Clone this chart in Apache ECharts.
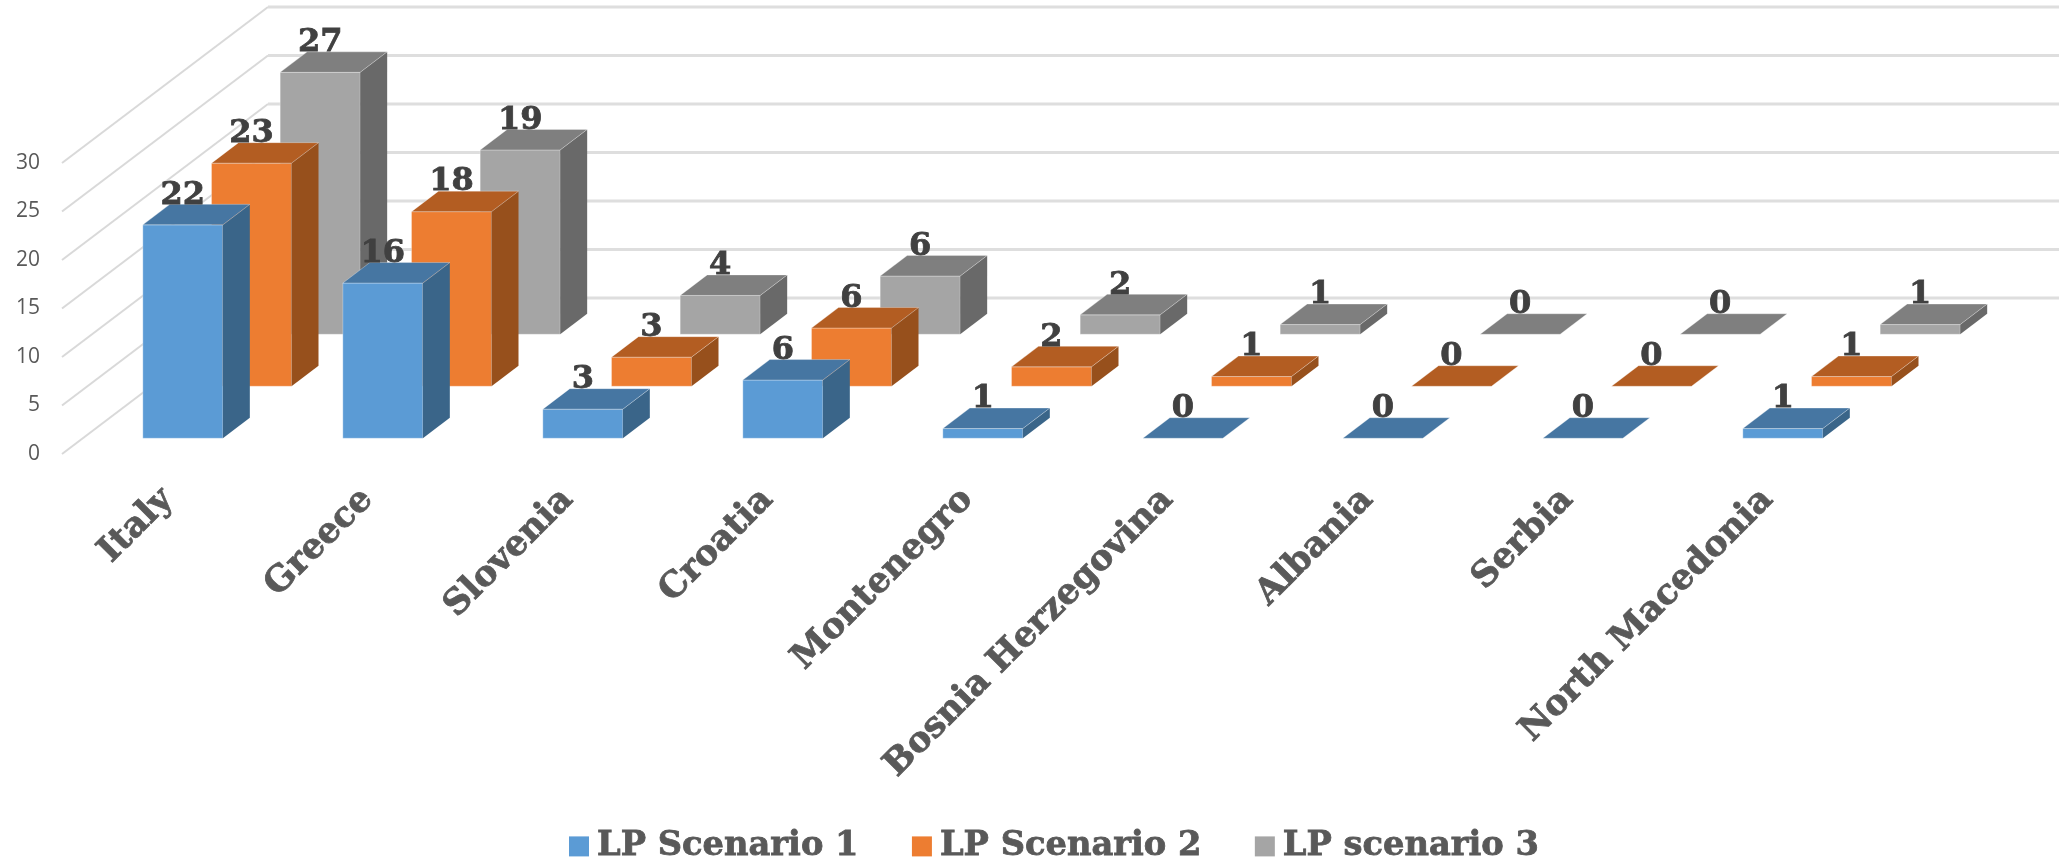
<!DOCTYPE html>
<html>
<head>
<meta charset="utf-8">
<title>LP scenarios</title>
<script src="https://cdn.jsdelivr.net/npm/echarts@6/dist/echarts.min.js"></script>
<style>
  html, body { margin: 0; padding: 0; background: #fff; }
  #chart { width: 2059px; height: 867px; }
</style>
</head>
<body>
<div id="chart"></div>
<script>
const categories = ['Italy', 'Greece', 'Slovenia', 'Croatia', 'Montenegro', 'Bosnia Herzegovina', 'Albania', 'Serbia', 'North Macedonia']
const scenario1 = [22, 16, 3, 6, 1, 0, 0, 0, 1]
const scenario2 = [23, 18, 3, 6, 2, 1, 0, 0, 1]
const scenario3 = [27, 19, 4, 6, 2, 1, 0, 0, 1]
const wallTicks = [0, 5, 10, 15, 20, 25, 30]

// fake 3d: how far the whole floor runs back, and the depth of one bar
const floorDx = 206
const floorDy = -156
const barDx = 27
const barDy = -20.5
const seriesCount = 3

const serifFont = '"DejaVu Serif", serif'
const edge = 'rgba(255,255,255,0.3)'

const face = (points, fill, stroke) => ({
  type: 'polygon',
  shape: { points },
  style: { fill, stroke: stroke || null, lineWidth: stroke ? 1 : 0 }
})

const renderWall = (params, api) => {
  const y = api.coord([0, api.value(1)])[1]
  const x0 = params.coordSys.x
  const x1 = x0 + floorDx
  const x2 = x0 + params.coordSys.width + floorDx
  return {
    type: 'group',
    children: [
      { type: 'line', shape: { x1: x0, y1: y, x2: x1, y2: y + floorDy }, style: { stroke: '#d9d9d9', lineWidth: 2 } },
      { type: 'line', shape: { x1, y1: y + floorDy, x2, y2: y + floorDy }, style: { stroke: '#dedede', lineWidth: 3 } }
    ]
  }
}

const makeRender = (row, colors) => (params, api) => {
  const index = api.value(0)
  const value = api.value(1)
  const top = api.coord([index, value])
  const base = api.coord([index, 0])
  const band = api.size([1, 0])[0]
  const width = band * 0.4

  // push the bar back to its own row on the floor
  const offsetX = (floorDx / seriesCount) * (row + 0.5) - barDx / 2
  const offsetY = (floorDy / seriesCount) * (row + 0.5) - barDy / 2

  const left = top[0] - width / 2 + offsetX
  const right = left + width
  const yTop = top[1] + offsetY
  const yBase = base[1] + offsetY

  const children = []
  if (value > 0) {
    children.push(face([[left, yTop], [right, yTop], [right, yBase], [left, yBase]], colors.front, edge))
    children.push(face([[right, yTop], [right + barDx, yTop + barDy], [right + barDx, yBase + barDy], [right, yBase]], colors.side))
  }
  children.push(face([[left, yTop], [left + barDx, yTop + barDy], [right + barDx, yTop + barDy], [right, yTop]], colors.top, edge))
  children.push({
    type: 'text',
    style: {
      text: String(value),
      x: left + width / 2,
      y: yTop + barDy + 7,
      align: 'center',
      verticalAlign: 'bottom',
      fill: '#404040',
      stroke: '#404040',
      lineWidth: 0.8,
      font: 'bold 32px ' + serifFont
    }
  })
  return { type: 'group', children }
}

const barSeries = (name, values, row, colors) => ({
  name,
  type: 'custom',
  z: 10 - row,
  itemStyle: { color: colors.front },
  encode: { x: 0, y: 1 },
  data: values.map((v, i) => [i, v]),
  renderItem: makeRender(row, colors)
})

const chart = echarts.init(document.getElementById('chart'))

chart.setOption({
  animation: false,
  backgroundColor: '#fff',
  legend: {
    data: ['LP Scenario 1', 'LP Scenario 2', 'LP scenario 3'],
    left: 564,
    top: 824,
    icon: 'rect',
    itemWidth: 20,
    itemHeight: 20,
    itemGap: 53,
    textStyle: {
      color: '#595959',
      fontFamily: serifFont,
      fontWeight: 'bold',
      fontSize: 33.7,
      padding: [0, 0, 0, 3],
      textBorderColor: '#595959',
      textBorderWidth: 0.8
    }
  },
  grid: { left: 62, top: 163, width: 1800, height: 291 },
  xAxis: {
    type: 'category',
    data: categories,
    axisLine: { show: false },
    axisTick: { show: false },
    splitLine: { show: false },
    axisLabel: {
      interval: 0,
      rotate: 45,
      margin: 46,
      padding: [0, -8, 0, 0],
      color: '#595959',
      fontFamily: serifFont,
      fontWeight: 'bold',
      fontSize: 35,
      textBorderColor: '#595959',
      textBorderWidth: 0.8
    }
  },
  yAxis: {
    type: 'value',
    min: 0,
    max: 30,
    interval: 5,
    axisLine: { show: false },
    axisTick: { show: false },
    splitLine: { show: false },
    axisLabel: {
      margin: 22,
      padding: [3, 0, 0, 0],
      color: '#595959',
      fontFamily: '"Open Sans", sans-serif',
      fontSize: 21
    }
  },
  series: [
    {
      name: 'walls',
      type: 'custom',
      z: 1,
      silent: true,
      encode: { x: 0, y: 1 },
      data: wallTicks.map(t => [0, t]),
      renderItem: renderWall
    },
    barSeries('LP scenario 3', scenario3, 2, { front: '#a5a5a5', side: '#696969', top: '#7f7f7f' }),
    barSeries('LP Scenario 2', scenario2, 1, { front: '#ed7d31', side: '#97501c', top: '#b35d22' }),
    barSeries('LP Scenario 1', scenario1, 0, { front: '#5b9bd5', side: '#3a6589', top: '#4676a2' })
  ]
})

window.addEventListener('resize', () => chart.resize())
</script>
</body>
</html>
